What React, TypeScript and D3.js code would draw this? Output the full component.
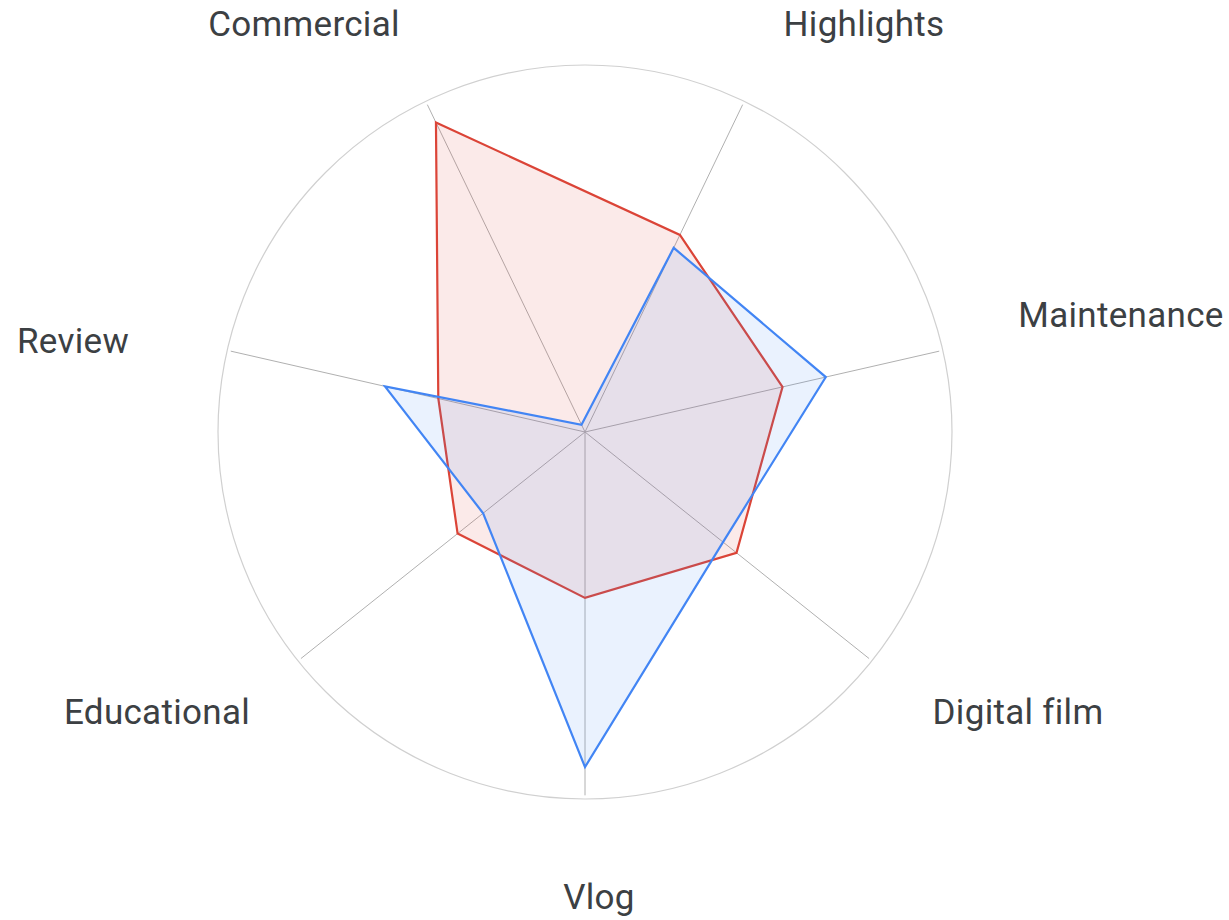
import React from "react";
import * as d3 from "d3";

const categories = ["Commercial", "Highlights", "Maintenance", "Digital film", "Vlog", "Educational", "Review"];
const seriesRed = [93.6, 59.6, 55.2, 52.8, 45.2, 44.4, 41.0];
const seriesBlue = [2.2, 55.7, 67.3, 48.1, 91.3, 35.5, 55.9];
const maxValue = 100;

// label placement (text center x offset, baseline y offset) relative to chart center
const labelLayout: [number, number][] = [
  [-281, -396],
  [279, -396],
  [536, -105],
  [433, 292],
  [14, 477],
  [-428, 292],
  [-512, -79],
];

const W = 1229;
const H = 920;
const cx = 585;
const cy = 432;
const R = 367;
const startAngle = -Math.PI / 7; // Commercial sits left of top

export default function App() {
  const n = categories.length;
  const angle = d3.scaleLinear().domain([0, n]).range([startAngle, startAngle + 2 * Math.PI]);
  const r = d3.scaleLinear().domain([0, maxValue]).range([0, R]);

  const pt = (i: number, v: number): [number, number] => {
    const a = angle(i);
    return [cx + r(v) * Math.sin(a), cy - r(v) * Math.cos(a)];
  };

  const line = d3.line<[number, number]>().curve(d3.curveLinearClosed);

  const series = [
    { values: seriesRed, color: "#db4437" },
    { values: seriesBlue, color: "#4285f4" },
  ];

  return (
    <svg width={W} height={H} style={{ position: "absolute", left: 0, top: 0, background: "#fff" }}>
      <circle cx={cx} cy={cy} r={R} fill="none" stroke="#d0d0d0" strokeWidth={1.2} />
      {categories.map((c, i) => {
        const [x, y] = pt(i, maxValue * 0.99);
        return <line key={c} x1={cx} y1={cy} x2={x} y2={y} stroke="#b0b0b0" strokeWidth={1} />;
      })}
      {series.map((s, k) => (
        <path
          key={k}
          d={line(s.values.map((v, i) => pt(i, v))) || ""}
          fill={s.color}
          fillOpacity={0.11}
          stroke={s.color}
          strokeWidth={2.2}
          strokeLinejoin="miter"
        />
      ))}
      {categories.map((c, i) => (
        <text
          key={c}
          x={cx + labelLayout[i][0]}
          y={cy + labelLayout[i][1]}
          textAnchor="middle"
          fontFamily="Roboto, 'Open Sans', sans-serif"
          fontSize={35}
          letterSpacing={0.3}
          fill="#3c4043"
        >
          {c}
        </text>
      ))}
    </svg>
  );
}
